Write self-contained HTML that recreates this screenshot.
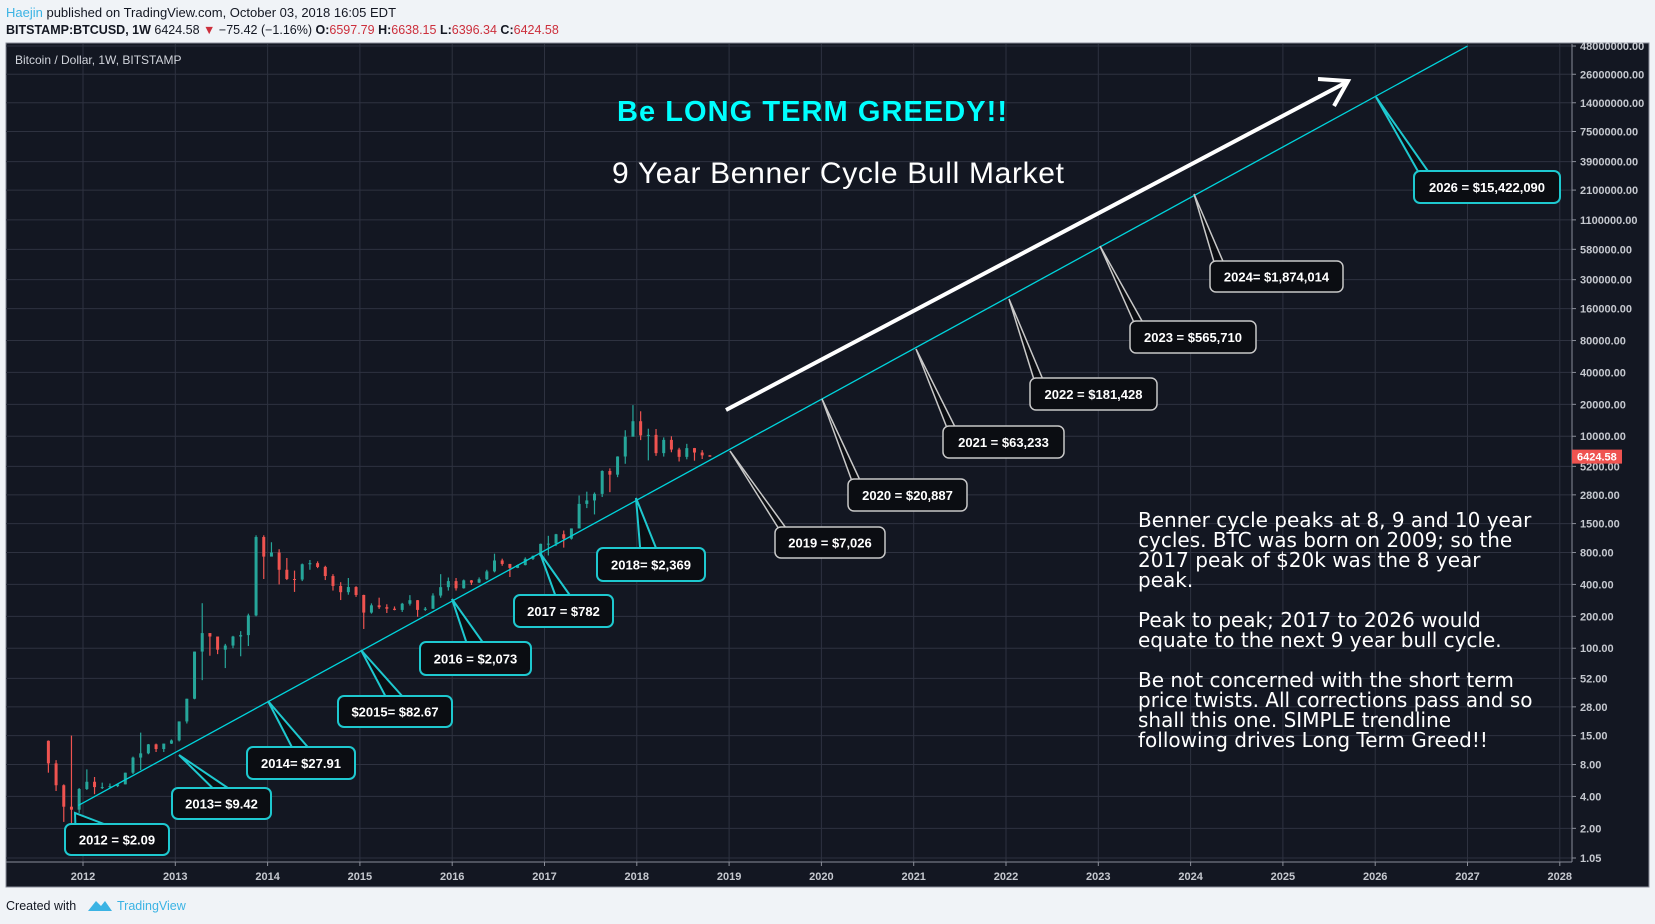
<!DOCTYPE html>
<html><head><meta charset="utf-8">
<style>
html,body{margin:0;padding:0;background:#f0f3f7;width:1655px;height:924px;overflow:hidden;font-family:"Liberation Sans",sans-serif}
svg{position:absolute;left:0;top:0}
</style></head>
<body>
<svg id="c" width="1655" height="924" viewBox="0 0 1655 924" xmlns="http://www.w3.org/2000/svg">
  <text x="6" y="17" font-size="13" fill="#131722"><tspan fill="#3bb3e4">Haejin</tspan> published on TradingView.com, October 03, 2018 16:05 EDT</text>
  <text x="6" y="34" font-size="12.5" fill="#131722"><tspan font-weight="bold">BITSTAMP:BTCUSD, 1W</tspan>  6424.58 <tspan fill="#cc2f3c">▼</tspan> −75.42 (−1.16%) <tspan font-weight="bold">O:</tspan><tspan fill="#cc2f3c">6597.79</tspan> <tspan font-weight="bold">H:</tspan><tspan fill="#cc2f3c">6638.15</tspan> <tspan font-weight="bold">L:</tspan><tspan fill="#cc2f3c">6396.34</tspan> <tspan font-weight="bold">C:</tspan><tspan fill="#cc2f3c">6424.58</tspan></text>
  <rect x="6" y="43" width="1643" height="844" fill="#131722" stroke="#8a8e99" stroke-width="1"/>
  <g id="grid"></g>
  <g id="candles"></g>
  <text x="15" y="64" font-size="12" fill="#d1d4dc">Bitcoin / Dollar, 1W, BITSTAMP</text>
  <g id="anno"></g>
  <g id="axes"></g>
  <text x="617" y="121" font-size="29" font-weight="bold" fill="#00ffff" textLength="390">Be LONG TERM GREEDY!!</text>
  <text x="612" y="183" font-size="30" fill="#ffffff" textLength="452">9 Year Benner Cycle Bull Market</text>
  <g font-family="'DejaVu Sans',sans-serif" font-size="20" fill="#ffffff">
    <text x="1138" y="527">Benner cycle peaks at 8, 9 and 10 year</text>
    <text x="1138" y="547">cycles. BTC was born on 2009; so the</text>
    <text x="1138" y="567">2017 peak of $20k was the 8 year</text>
    <text x="1138" y="587">peak.</text>
    <text x="1138" y="627">Peak to peak; 2017 to 2026 would</text>
    <text x="1138" y="647">equate to the next 9 year bull cycle.</text>
    <text x="1138" y="687">Be not concerned with the short term</text>
    <text x="1138" y="707">price twists. All corrections pass and so</text>
    <text x="1138" y="727">shall this one. SIMPLE trendline</text>
    <text x="1138" y="747">following drives Long Term Greed!!</text>
  </g>
  <text x="6" y="910" font-size="12.5" fill="#131722">Created with</text>
  <path d="M88 911 L96 901 L101 906 L105 901 L112 911 Z" fill="#3bb3e4"/>
  <text x="117" y="910" font-size="12.5" fill="#3bb3e4">TradingView</text>
</svg>
<script>
// ---- data ----
const yearTicks = [2012,2013,2014,2015,2016,2017,2018,2019,2020,2021,2022,2023,2024,2025,2026,2027,2028];
const priceTicks = [1.05,2,4,8,15,28,52,100,200,400,800,1500,2800,5200,10000,20000,40000,80000,160000,300000,580000,1100000,2100000,3900000,7500000,14000000,26000000,48000000];
const priceTickLabels = ["1.05","2.00","4.00","8.00","15.00","28.00","52.00","100.00","200.00","400.00","800.00","1500.00","2800.00","5200.00","10000.00","20000.00","40000.00","80000.00","160000.00","300000.00","580000.00","1100000.00","2100000.00","3900000.00","7500000.00","14000000.00","26000000.00","48000000.00"];
// monthly candles from Aug 2011
const opens  = [13.4,8.2,5.1,3.2,3.0, 4.7,5.5,4.9,4.9,5.0,5.2,6.7,9.3,10.2,12.4,11.2,12.6, 13.5,20.4,33.4,93,139,129,97,106,129,133,204,1120, 732,800,550,450,445,620,635,585,480,387,338,378, 318,217,254,244,236,230,263,284,230,236,314,377, 430,368,437,416,448,531,673,624,573,609,698,744, 966,970,1190,1080,1350,2300,2480,2860,4700,4340,6440,9900, 13860,10200,10300,6930,9240,7490,6390,7730,7020,6600];
const highs  = [13.5,8.8,5.2,15,4.8, 7.2,6.1,5.4,5.3,5.2,6.7,9.5,16,12.5,12.6,12.6,13.8, 20.4,33.4,93,266,139,129,110,131,145,212,1163,1163, 1000,860,710,540,630,680,660,600,500,420,460,385, 320,265,300,260,248,268,317,285,245,330,500,465, 460,445,440,466,550,780,700,625,615,720,750,970, 1150,1200,1290,1350,2760,3000,2950,4770,4980,6470,11400,19666, 17200,11780,11700,9750,9990,7780,8480,7760,7400,6640];
const lows   = [6.7,4.5,2.3,2.0,2.8, 4.6,4.2,4.7,4.8,4.9,5.2,6.5,7.1,10,10.5,10.5,12.5, 13.2,19.5,33,50,85,88,65,100,84,105,200,450, 740,400,440,340,430,550,570,440,350,285,320,305, 152,212,235,215,228,220,253,198,225,235,300,350, 350,365,395,412,440,520,600,470,570,605,680,740, 750,920,890,1060,1350,2100,1830,2670,2970,4110,5500,10700, 9200,5920,6530,6430,7060,5780,6060,5880,6100,6400];
const closes = [8.2,5.1,3.2,3.0,4.7, 5.5,4.9,4.9,5.0,5.2,6.7,9.3,10.2,12.4,11.2,12.6,13.5, 20.4,33.4,93,139,129,97,106,129,133,204,1120,732, 800,550,450,445,620,635,585,480,387,338,378,318, 217,254,244,236,230,263,284,230,236,314,377,430, 368,437,416,448,531,673,624,573,609,698,744,966, 970,1190,1080,1350,2300,2480,2860,4700,4340,6440,9900,13860, 10200,10300,6930,9240,7490,6390,7730,7020,6600,6424];
const trendStartYear = 2011.95, trendEndYear = 2027.0;
const trendLogAt2014 = 1.493, trendLogPerYear = 0.476;
const lastPrice = 6424.58;

// ---- scales ----
const NS="http://www.w3.org/2000/svg";
function X(yr){return 83+(yr-2012)*92.3;}
function Y(v){return 858-106*(Math.log10(v)-0.0212);}
function trendY(yr){return Y(Math.pow(10,trendLogAt2014+trendLogPerYear*(yr-2014)));}
function mk(tag,attrs,parent){const e=document.createElementNS(NS,tag);for(const k in attrs)e.setAttribute(k,attrs[k]);parent.appendChild(e);return e;}

const grid=document.getElementById('grid');
const axes=document.getElementById('axes');
priceTicks.forEach((v,i)=>{
  const l=mk('line',{x1:6,x2:1572,y1:Y(v),y2:Y(v),stroke:'#2e3240','stroke-width':1},grid);
  
  
  const t=mk('text',{x:1580,y:Y(v)+4,'font-size':11,'font-weight':'bold',fill:'#c5c8cf'},axes);
  
  
  t.textContent=priceTickLabels[i];
  mk('line',{x1:1572,x2:1576,y1:Y(v),y2:Y(v),stroke:'#8a8e99'},axes);
});
yearTicks.forEach(yr=>{
  const l=mk('line',{x1:X(yr),x2:X(yr),y1:44,y2:862,stroke:'#2e3240','stroke-width':1},grid);
  
  
  const t=mk('text',{x:X(yr),y:880,'font-size':11,'font-weight':'bold',fill:'#c5c8cf','text-anchor':'middle'},axes);
  
  
  t.textContent=yr;
  mk('line',{x1:X(yr),x2:X(yr),y1:862,y2:866,stroke:'#8a8e99'},axes);
});
mk('line',{x1:6,x2:1572,y1:862,y2:862,stroke:'#8a8e99'},axes);
mk('line',{x1:1572,x2:1572,y1:44,y2:862,stroke:'#8a8e99'},axes);
// last price label
const lp=mk('rect',{x:1572,y:Y(lastPrice)-7,width:50,height:14,fill:'#ef5350'},axes);


const lpt=mk('text',{x:1577,y:Y(lastPrice)+4,'font-size':11,'font-weight':'bold',fill:'#fff'},axes);


lpt.textContent=lastPrice.toFixed(2);

// candles
const cg=document.getElementById('candles');
closes.forEach((c,i)=>{
  const yr=2011+(7+i+0.5)/12;
  const x=X(yr);
  const up=c>=opens[i];
  const col=up?'#26a69a':'#ef5350';
  const w=mk('line',{x1:x,x2:x,y1:Y(highs[i]),y2:Y(lows[i]),stroke:col,'stroke-width':1.2},cg);
  
  
  const top=Math.min(Y(opens[i]),Y(c)), h=Math.max(1,Math.abs(Y(opens[i])-Y(c)));
  const b=mk('rect',{x:x-1.5,y:top,width:3,height:h,fill:col},cg);
  
  
});

// annotations
const an=document.getElementById('anno');
const tl=mk('line',{x1:X(trendStartYear),y1:trendY(trendStartYear),x2:X(trendEndYear),y2:trendY(trendEndYear),stroke:'#00d4dc','stroke-width':1.3},an);


const ar=mk('line',{x1:726,y1:410,x2:1345,y2:83,stroke:'#fff','stroke-width':4},an);


const ah=mk('polyline',{points:'1318,79 1348,81 1334,106',fill:'none',stroke:'#fff','stroke-width':4},an);



const callouts=[
 ['2012 = $2.09',75,813,65,824,104,31,'c',0.1,0.4],
 ['2013= $9.42',179,755,172,788,99,31,'c',0.42,0.58],
 ['2014= $27.91',268,701,247,747,108,32,'c',0.42,0.57],
 ['$2015= $82.67',361,650,338,696,114,31,'c',0.42,0.57],
 ['2016 = $2,073',452,599,420,642,111,33,'c',0.42,0.57],
 ['2017 = $782',540,553,514,595,99,32,'c',0.42,0.57],
 ['2018= $2,369',636,498,597,548,108,33,'c',0.4,0.55],
 ['2019 = $7,026',730,451,775,527,110,31,'w',0.03,0.1],
 ['2020 = $20,887',822,399,848,479,119,32,'w',0.03,0.1],
 ['2021 = $63,233',916,349,943,426,121,32,'w',0.03,0.1],
 ['2022 = $181,428',1009,299,1030,378,127,32,'w',0.03,0.1],
 ['2023 = $565,710',1100,246,1130,321,126,32,'w',0.03,0.1],
 ['2024= $1,874,014',1194,194,1210,261,133,31,'w',0.03,0.1],
 ['2026 = $15,422,090',1376,97,1414,171,146,32,'c',0.03,0.1]
];
callouts.forEach(c=>{
  const [txt,ax,ay,bx,by,bw,bh,kind,f1,f2]=c;
  const col=kind==='c'?'#1ec8cf':'#c8c8c8';
  const g=mk('g',{},an);
  
  
  mk('polygon',{points:`${ax},${ay} ${bx+bw*f1},${by+1} ${bx+bw*f2},${by+1}`,fill:'#0b0d12',stroke:col,'stroke-width':kind==='c'?2:1.5},g);
  mk('rect',{x:bx,y:by,width:bw,height:bh,rx:6,fill:'#0b0d12',stroke:col,'stroke-width':kind==='c'?2:1.5},g);
  mk('polygon',{points:`${bx+bw*f1+1},${by+2} ${bx+bw*f2-1},${by+2} ${bx+bw*f2-1},${by+3} ${bx+bw*f1+1},${by+3}`,fill:'#0b0d12'},g);
  const t=mk('text',{x:bx+bw/2,y:by+bh/2+5,'font-size':13,'font-weight':'bold',fill:'#fff','text-anchor':'middle'},g);
  t.textContent=txt;
});
</script>
</body></html>
